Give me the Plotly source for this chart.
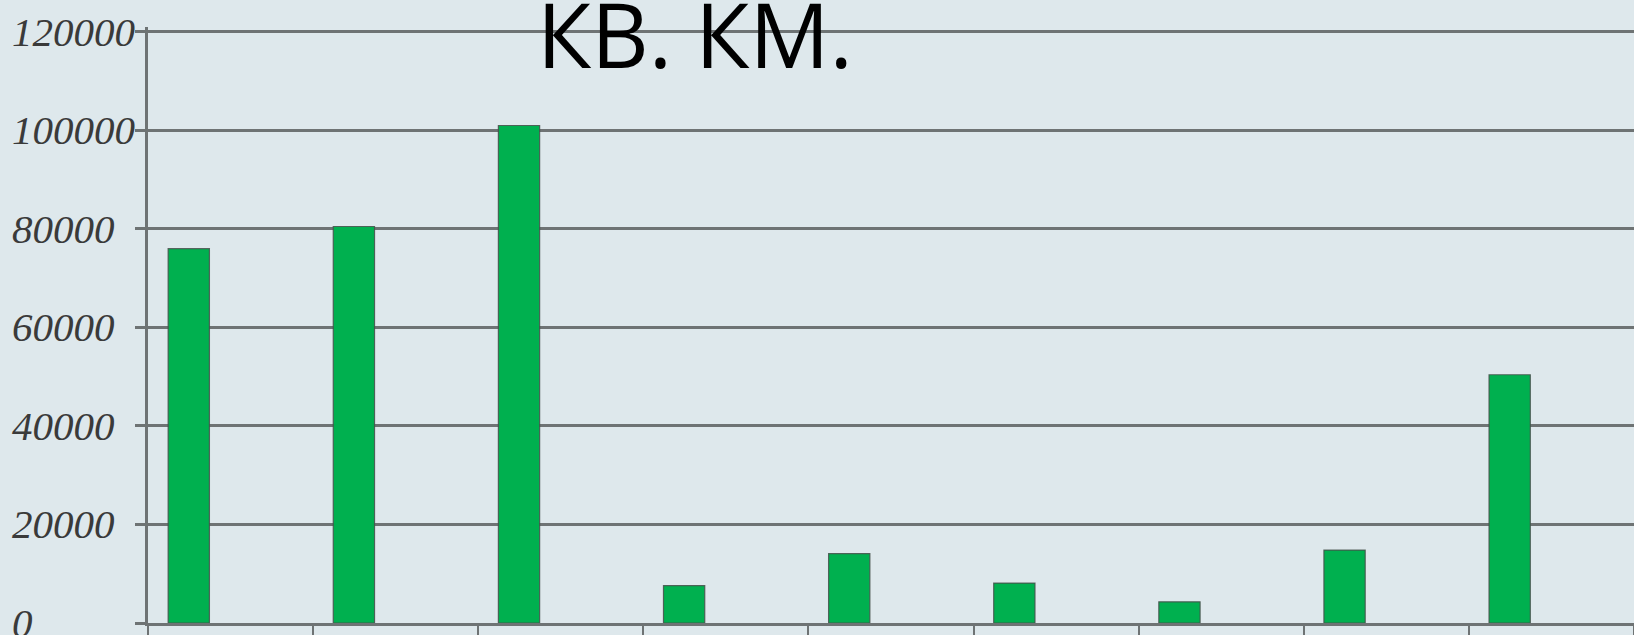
import plotly.graph_objects as go

categories = ["1", "2", "3", "4", "5", "6", "7", "8", "9"]
values = [76000, 80500, 101000, 7600, 14100, 8100, 4300, 14800, 50400]
y_ticks = [0, 20000, 40000, 60000, 80000, 100000, 120000]
title_text = "КВ. КМ."

BG = "#dee8ec"
GRID = "#6e7374"
L, T, B, W, H = 148, 27, 12, 1634, 635
PW = W - L
PH = H - T - B

fig = go.Figure()
fig.add_trace(go.Bar(
    x=categories, y=values,
    width=0.25, offset=-0.378,
    marker=dict(color="#00b04f", line=dict(color="rgba(70,80,75,0.85)", width=1.2)),
))

annotations = [dict(
    text=title_text, xref="paper", yref="paper",
    x=(695 - L) / PW, y=1.0 - (33 - T) / PH,
    xanchor="center", yanchor="middle", showarrow=False,
    font=dict(family="Open Sans, Noto Sans, sans-serif", size=89, color="#000000"),
)]
# left-aligned y tick labels, placed through the y axis scale
for v in y_ticks:
    annotations.append(dict(
        text=str(v), xref="paper", yref="y",
        x=(10 - L) / PW, y=v,
        xanchor="left", yanchor="middle", showarrow=False,
        font=dict(family="Liberation Serif, serif", size=41, color="#3a3a3a", style="italic"),
    ))

fig.update_layout(
    width=W, height=H,
    margin=dict(l=L, r=0, t=T, b=B, autoexpand=False),
    paper_bgcolor=BG, plot_bgcolor=BG,
    showlegend=False,
    annotations=annotations,
)

fig.update_xaxes(
    type="category", range=[-0.5, 8.5], automargin=False,
    showticklabels=False, showgrid=False, zeroline=False,
    showline=True, linecolor=GRID, linewidth=2.5,
    ticks="outside", tickson="boundaries", ticklen=12, tickwidth=2, tickcolor=GRID,
)
fig.update_yaxes(
    range=[0, 121000], tickvals=y_ticks, showticklabels=False,
    automargin=False,
    showgrid=True, gridcolor=GRID, gridwidth=2.5, zeroline=False,
    showline=True, linecolor=GRID, linewidth=3,
    ticks="outside", ticklen=10, tickwidth=2.5, tickcolor=GRID,
)

fig.write_html(
    "out.html",
    config={"displayModeBar": False},
    post_script="document.body.style.margin='0';document.body.style.background='%s';" % BG,
)
